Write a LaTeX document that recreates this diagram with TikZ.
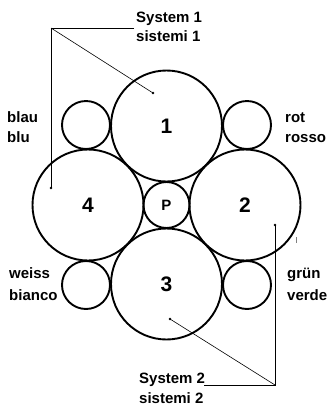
\documentclass[tikz,border=0pt]{standalone}
\usepackage{fontspec}
\setmainfont{Liberation Sans}
\begin{document}
\begin{tikzpicture}[x=1pt,y=-1pt,
  ring/.style={circle,draw,line width=1.9pt,inner sep=0pt,font=\fontsize{21}{23}\selectfont\bfseries},
  bigring/.style={ring,minimum size=111pt},
  smallring/.style={ring,minimum size=48pt},
  pring/.style={ring,minimum size=46pt,font=\fontsize{15}{17}\selectfont\bfseries},
  lbl/.style={anchor=base west,inner sep=0pt,font=\fontsize{15}{17}\selectfont\bfseries},
  leader/.style={line width=0.6pt},
  dotmark/.style={fill,circle,inner sep=0pt,minimum size=2.6pt}]
\useasboundingbox (0,0) rectangle (329,408);
% circles
\node[pring] (p) at (166.5,205) {P};
\node[bigring] (c1) at (166.5,126) {1};
\node[bigring] (c3) at (166.5,284) {3};
\node[bigring] (c4) at (88,205) {4};
\node[bigring] (c2) at (245,205) {2};
\node[smallring] (blau) at (86,125) {};
\node[smallring] (rot) at (247,125) {};
\node[smallring] (weiss) at (86,285) {};
\node[smallring] (gruen) at (247,285) {};
% labels
\node[lbl] (s1a) at (136,22.5) {System 1};
\node[lbl] (s1b) at (136,41.5) {sistemi 1};
\node[lbl] (la) at (7,122.5) {blau};
\node[lbl] (lb) at (7,142.5) {blu};
\node[lbl] (ra) at (285,122.5) {rot};
\node[lbl] (rb) at (285,142.5) {rosso};
\node[lbl] (wa) at (9,278.5) {weiss};
\node[lbl] (wb) at (9,300) {bianco};
\node[lbl] (ga) at (287,278.5) {grün};
\node[lbl] (gb) at (287,300) {verde};
\node[lbl] (s2a) at (139,383) {System 2};
\node[lbl] (s2b) at (139,403) {sistemi 2};
% leaders system 1
\coordinate (k1) at (51,28);
\coordinate (h1) at (134,28);
\node[dotmark] (d1a) at (153,93) {};
\node[dotmark] (d1b) at (51,188) {};
\draw[leader] (h1) -- (k1) -- (d1b.center);
\draw[leader] (k1) -- (d1a.center);
% leaders system 2
\coordinate (k2) at (275,385);
\coordinate (h2) at (204,385);
\node[dotmark] (d2a) at (170,319) {};
\node[dotmark] (d2b) at (275,225) {};
\draw[leader] (h2) -- (k2) -- (d2b.center);
\draw[leader] (k2) -- (d2a.center);
% small tick mark
\coordinate (t1) at (296,237);
\coordinate (t2) at (296,243);
\draw[line width=0.5pt,gray] (t1) -- (t2);
\end{tikzpicture}
\end{document}
